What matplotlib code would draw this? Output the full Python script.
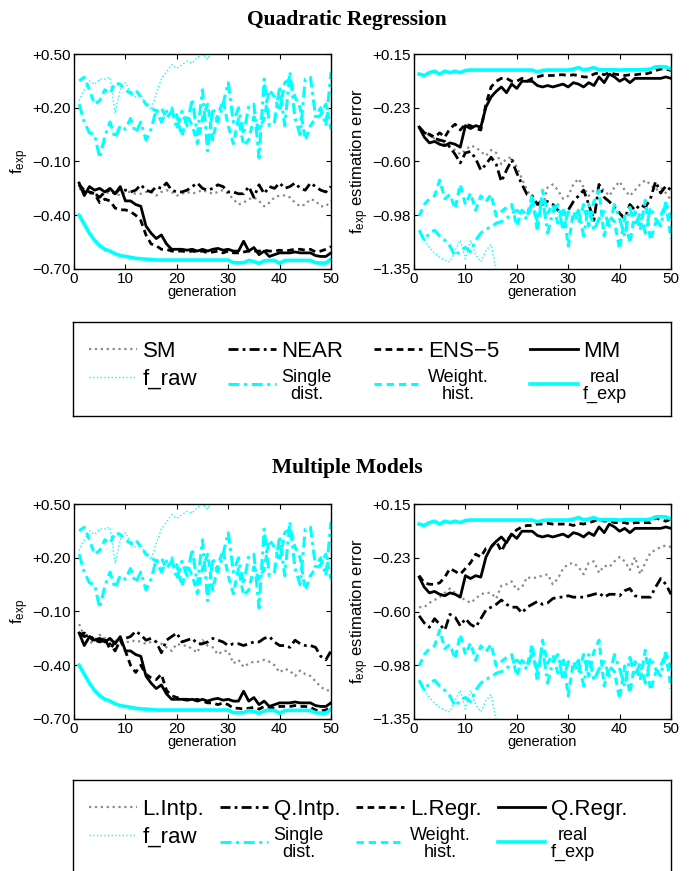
import matplotlib
matplotlib.use("Agg")
import matplotlib.pyplot as plt
import numpy as np

plt.rcParams['font.family'] = ['Liberation Sans', 'DejaVu Sans']
plt.rcParams['mathtext.fontset'] = 'custom'
plt.rcParams['mathtext.rm'] = 'Liberation Sans'
plt.rcParams['mathtext.it'] = 'Liberation Sans'

gen = np.arange(1, 51)
nan = np.nan

# ---- f_exp (left panels), shared cyan series ----
f_raw_left = [0.24, 0.30, 0.35, 0.33, 0.36, 0.36, 0.37, 0.17, 0.30, 0.34,
              0.28, 0.26, 0.27, 0.22, 0.19, 0.28, 0.36, 0.40, 0.44, 0.42,
              0.44, 0.46, 0.45, 0.48, 0.50, 0.47, 0.56, nan, nan, nan,
              nan, nan, nan, nan, nan, nan, nan, nan, nan, nan,
              nan, nan, nan, nan, nan, nan, nan, nan, nan, nan]
single_left = [0.22, 0.12, 0.06, 0.05, -0.08, 0.04, 0.12, 0.03, 0.10, 0.08,
               0.14, 0.06, 0.12, 0.02, 0.08, 0.19, 0.12, 0.18, 0.20, 0.08,
               0.18, 0.10, 0.25, 0.05, 0.30, -0.04, 0.20, 0.12, 0.22, 0.34,
               0.12, 0.20, 0.05, 0.21, 0.22, -0.08, 0.36, 0.10, 0.12, 0.32,
               0.10, 0.40, 0.14, 0.05, 0.36, 0.37, 0.15, 0.20, 0.10, 0.40]
weight_left = [0.35, 0.37, 0.30, 0.22, 0.24, 0.30, 0.28, 0.34, 0.33, 0.30,
               0.28, 0.30, 0.26, 0.22, 0.20, 0.18, 0.20, 0.14, 0.18, 0.16,
               0.04, 0.16, 0.10, 0.00, 0.14, 0.22, 0.02, 0.16, 0.24, 0.10,
               0.00, 0.14, -0.01, 0.02, 0.15, 0.08, 0.14, 0.30, 0.26, 0.18,
               0.34, 0.36, 0.26, 0.20, 0.02, 0.10, 0.14, 0.16, 0.22, 0.08]
real_left = [-0.40, -0.45, -0.50, -0.54, -0.57, -0.59, -0.60, -0.615, -0.625, -0.63,
             -0.635, -0.64, -0.643, -0.645, -0.647, -0.65, -0.65, -0.65, -0.65, -0.65,
             -0.65, -0.65, -0.65, -0.65, -0.65, -0.65, -0.65, -0.65, -0.65, -0.65,
             -0.665, -0.665, -0.665, -0.652, -0.658, -0.668, -0.655, -0.652, -0.652, -0.668,
             -0.653, -0.652, -0.652, -0.652, -0.652, -0.652, -0.665, -0.667, -0.667, -0.645]

# top-left black series
sm_left = [-0.25, -0.27, -0.28, -0.28, -0.29, -0.28, -0.27, -0.28, -0.29, -0.27,
           -0.27, -0.28, -0.28, -0.27, -0.27, -0.29, -0.27, -0.26, -0.27, -0.29,
           -0.28, -0.27, -0.28, -0.27, -0.26, -0.27, -0.28, -0.27, -0.26, -0.28,
           -0.31, -0.34, -0.33, -0.31, -0.30, -0.32, -0.35, -0.33, -0.30, -0.29,
           -0.29, -0.30, -0.33, -0.35, -0.34, -0.31, -0.32, -0.35, -0.35, -0.32]
near_left = [-0.23, -0.27, -0.27, -0.28, -0.30, -0.27, -0.26, -0.28, -0.25, -0.26,
             -0.27, -0.26, -0.23, -0.26, -0.27, -0.24, -0.25, -0.22, -0.26, -0.27,
             -0.27, -0.26, -0.24, -0.22, -0.25, -0.26, -0.25, -0.23, -0.24, -0.27,
             -0.27, -0.28, -0.28, -0.24, -0.30, -0.23, -0.28, -0.24, -0.25, -0.22,
             -0.25, -0.24, -0.22, -0.25, -0.26, -0.22, -0.24, -0.26, -0.27, -0.24]
ens_left = [-0.23, -0.26, -0.27, -0.28, -0.33, -0.31, -0.32, -0.36, -0.37, -0.37,
            -0.38, -0.40, -0.43, -0.51, -0.56, -0.57, -0.59, -0.59, -0.60, -0.60,
            -0.60, -0.605, -0.60, -0.605, -0.60, -0.61, -0.605, -0.60, -0.61, -0.60,
            -0.61, -0.61, -0.605, -0.60, -0.60, -0.60, -0.595, -0.60, -0.60, -0.595,
            -0.60, -0.595, -0.59, -0.59, -0.595, -0.59, -0.605, -0.60, -0.59, -0.575]
mm_left = [-0.22, -0.29, -0.24, -0.26, -0.25, -0.27, -0.25, -0.28, -0.24, -0.32,
           -0.32, -0.34, -0.35, -0.46, -0.50, -0.53, -0.51, -0.56, -0.59, -0.59,
           -0.59, -0.595, -0.59, -0.60, -0.59, -0.60, -0.59, -0.585, -0.595, -0.59,
           -0.60, -0.60, -0.545, -0.60, -0.58, -0.62, -0.60, -0.63, -0.62, -0.61,
           -0.61, -0.61, -0.605, -0.61, -0.61, -0.61, -0.625, -0.63, -0.63, -0.61]

# bottom-left black series
lintp_left = [-0.17, -0.24, -0.28, -0.26, -0.23, -0.25, -0.26, -0.26, -0.27, -0.27,
              -0.27, -0.26, -0.27, -0.28, -0.27, -0.27, -0.28, -0.30, -0.32, -0.28,
              -0.29, -0.29, -0.31, -0.33, -0.26, -0.29, -0.30, -0.34, -0.32, -0.32,
              -0.39, -0.37, -0.41, -0.39, -0.38, -0.38, -0.37, -0.38, -0.40, -0.44,
              -0.42, -0.43, -0.46, -0.43, -0.45, -0.46, -0.49, -0.52, -0.54, -0.54]
qintp_left = [-0.22, -0.24, -0.23, -0.26, -0.27, -0.26, -0.28, -0.32, -0.26, -0.25,
              -0.24, -0.21, -0.23, -0.26, -0.25, -0.27, -0.33, -0.26, -0.24, -0.22,
              -0.27, -0.26, -0.25, -0.28, -0.28, -0.27, -0.25, -0.26, -0.27, -0.29,
              -0.28, -0.28, -0.29, -0.28, -0.27, -0.27, -0.25, -0.24, -0.27, -0.29,
              -0.29, -0.30, -0.26, -0.28, -0.29, -0.29, -0.30, -0.35, -0.37, -0.32]
lregr_left = [-0.23, -0.22, -0.24, -0.27, -0.26, -0.25, -0.31, -0.27, -0.26, -0.32,
              -0.40, -0.44, -0.40, -0.45, -0.47, -0.48, -0.45, -0.54, -0.57, -0.58,
              -0.59, -0.59, -0.595, -0.59, -0.60, -0.61, -0.61, -0.62, -0.61, -0.62,
              -0.64, -0.64, -0.645, -0.64, -0.635, -0.645, -0.63, -0.635, -0.64, -0.63,
              -0.63, -0.63, -0.625, -0.63, -0.63, -0.635, -0.65, -0.655, -0.65, -0.635]
qregr_left = mm_left

# ---- estimation error (right panels), shared cyan series ----
f_raw_right = [-1.08, -1.15, -1.20, -1.24, -1.27, -1.29, -1.30, -1.22, -1.15, -1.28,
               -1.15, -1.25, -1.30, -1.22, -1.18, -1.36, -1.50, nan, nan, nan,
               nan, nan, nan, nan, nan, nan, nan, nan, nan, nan,
               nan, nan, nan, nan, nan, nan, nan, nan, nan, nan,
               nan, nan, nan, nan, nan, nan, nan, nan, nan, nan]
single_right = [-1.08, -1.15, -1.10, -1.08, -1.12, -1.15, -1.19, -1.26, -1.22, -1.20,
                -1.23, -1.15, -1.10, -1.07, -1.06, -1.03, -1.02, -1.00, -0.96, -0.94,
                -0.97, -1.00, -0.88, -1.02, -0.85, -1.10, -0.95, -0.90, -1.08, -0.95,
                -1.00, -0.94, -1.12, -0.90, -1.08, -1.00, -0.95, -1.05, -0.90, -1.00,
                -1.12, -0.92, -1.05, -0.96, -1.10, -0.92, -1.00, -1.05, -0.88, -1.00]
weight_right = [-0.98, -0.90, -0.86, -0.84, -0.73, -0.86, -0.83, -0.93, -0.76, -0.90,
                -0.82, -0.94, -0.84, -0.88, -0.83, -0.98, -0.95, -0.92, -0.90, -1.05,
                -0.94, -0.98, -0.83, -1.09, -0.80, -0.96, -0.90, -1.03, -0.92, -1.19,
                -0.95, -1.03, -0.90, -1.05, -0.88, -0.80, -1.12, -0.98, -1.02, -1.21,
                -0.98, -1.17, -0.95, -1.08, -0.87, -1.15, -1.03, -0.98, -0.89, -1.14]
real_right = [0.01, 0.00, 0.02, 0.03, 0.01, 0.03, 0.02, 0.03, 0.02, 0.035,
              0.038, 0.038, 0.038, 0.038, 0.038, 0.038, 0.038, 0.038, 0.038, 0.038,
              0.038, 0.038, 0.038, 0.025, 0.035, 0.038, 0.038, 0.038, 0.038, 0.038,
              0.045, 0.055, 0.04, 0.045, 0.055, 0.04, 0.04, 0.04, 0.04, 0.038,
              0.04, 0.04, 0.04, 0.04, 0.04, 0.045, 0.06, 0.062, 0.06, 0.045]

# top-right black series
sm_right = [-0.36, -0.40, -0.42, -0.44, -0.46, -0.48, -0.50, -0.52, -0.55, -0.52,
            -0.49, -0.50, -0.53, -0.56, -0.52, -0.54, -0.62, -0.58, -0.57, -0.64,
            -0.72, -0.80, -0.86, -0.90, -0.92, -0.78, -0.76, -0.80, -0.86, -0.84,
            -0.76, -0.72, -0.78, -0.84, -0.80, -0.78, -0.80, -0.84, -0.78, -0.74,
            -0.80, -0.84, -0.80, -0.76, -0.73, -0.76, -0.80, -0.78, -0.82, -0.87]
near_right = [-0.36, -0.40, -0.41, -0.44, -0.45, -0.46, -0.50, -0.55, -0.61, -0.54,
              -0.53, -0.58, -0.66, -0.62, -0.57, -0.62, -0.74, -0.66, -0.59, -0.68,
              -0.76, -0.83, -0.84, -0.90, -0.87, -0.88, -0.90, -0.94, -0.96, -0.94,
              -0.88, -0.84, -0.80, -0.90, -1.01, -0.76, -0.85, -0.88, -0.92, -0.96,
              -1.00, -0.90, -0.94, -0.90, -0.92, -0.86, -0.74, -0.82, -0.77, -0.80]
ens_right = [-0.36, -0.40, -0.41, -0.43, -0.40, -0.43, -0.37, -0.34, -0.38, -0.34,
             -0.35, -0.37, -0.38, -0.20, -0.08, -0.04, -0.02, -0.02, -0.04, -0.04,
             -0.02, -0.04, -0.02, -0.01, 0.00, 0.00, 0.00, 0.005, 0.005, 0.00,
             0.005, 0.00, -0.01, -0.01, 0.01, 0.02, 0.005, 0.02, 0.01, 0.005,
             0.00, 0.005, 0.005, 0.01, 0.01, 0.02, 0.035, 0.045, 0.045, 0.035]
mm_right = [-0.36, -0.43, -0.47, -0.46, -0.48, -0.49, -0.47, -0.48, -0.50, -0.35,
            -0.37, -0.35, -0.36, -0.22, -0.15, -0.11, -0.08, -0.12, -0.06, -0.09,
            -0.04, -0.04, -0.04, -0.07, -0.08, -0.07, -0.08, -0.07, -0.06, -0.08,
            -0.05, -0.06, -0.08, -0.05, -0.07, -0.01, -0.05, 0.01, -0.01, -0.04,
            -0.02, -0.05, -0.02, -0.02, -0.02, -0.02, -0.02, -0.02, -0.01, -0.02]

# bottom-right black series
lintp_right = [-0.57, -0.57, -0.54, -0.52, -0.50, -0.47, -0.44, -0.47, -0.50, -0.52,
               -0.54, -0.51, -0.48, -0.47, -0.47, -0.51, -0.42, -0.41, -0.39, -0.45,
               -0.43, -0.36, -0.37, -0.36, -0.35, -0.34, -0.41, -0.37, -0.30, -0.27,
               -0.26, -0.29, -0.34, -0.26, -0.25, -0.33, -0.28, -0.29, -0.25, -0.22,
               -0.25, -0.31, -0.22, -0.34, -0.26, -0.19, -0.17, -0.15, -0.14, -0.15]
qintp_right = [-0.63, -0.68, -0.71, -0.65, -0.69, -0.73, -0.62, -0.64, -0.70, -0.65,
               -0.69, -0.71, -0.65, -0.59, -0.57, -0.55, -0.52, -0.55, -0.57, -0.57,
               -0.61, -0.57, -0.55, -0.53, -0.55, -0.54, -0.51, -0.50, -0.50, -0.49,
               -0.50, -0.50, -0.50, -0.49, -0.48, -0.47, -0.50, -0.48, -0.48, -0.49,
               -0.455, -0.44, -0.49, -0.50, -0.50, -0.50, -0.43, -0.37, -0.41, -0.48]
lregr_right = [-0.35, -0.40, -0.41, -0.41, -0.40, -0.36, -0.30, -0.32, -0.34, -0.30,
               -0.26, -0.20, -0.22, -0.16, -0.15, -0.11, -0.18, -0.11, -0.06, -0.03,
               -0.01, 0.00, 0.00, 0.01, 0.01, 0.015, 0.01, 0.01, 0.01, 0.01,
               0.00, 0.015, 0.01, 0.02, 0.03, 0.045, 0.03, 0.035, 0.02, 0.02,
               0.02, 0.01, 0.02, 0.02, 0.02, 0.02, 0.055, 0.04, 0.03, 0.045]
qregr_right = mm_right

left_ticks = [-0.70, -0.40, -0.10, 0.20, 0.50]
left_labels = ["\u22120.70", "\u22120.40", "\u22120.10", "+0.20", "+0.50"]
right_ticks = list(np.linspace(-1.35, 0.15, 5))
right_labels = ["\u22121.35", "\u22120.98", "\u22120.60", "\u22120.23", "+0.15"]

CYAN = "#00FFFF"
GREY = "#8a8a8a"
DASH = (2.4, 1.6)
DASHDOT = (3.6, 1.5, 1.0, 1.5)


def draw_panel(ax, black, cyan, yticks, ylabels, ylim, ylabel, names):
    sm, near, ens, mm = black
    raw, single, weight, real = cyan
    h = []
    h += ax.plot(gen, sm, color=GREY, lw=1.6, ls=":", label=names[0])
    h += ax.plot(gen, raw, color=CYAN, lw=1.0, ls=":", label="f_raw")
    h += ax.plot(gen, near, color="k", lw=2.0, dashes=DASHDOT, label=names[1])
    h += ax.plot(gen, single, color=CYAN, lw=2.2, dashes=DASHDOT, label="Single\ndist.")
    h += ax.plot(gen, ens, color="k", lw=2.0, dashes=DASH, label=names[2])
    h += ax.plot(gen, weight, color=CYAN, lw=2.2, dashes=DASH, label="Weight.\nhist.")
    h += ax.plot(gen, mm, color="k", lw=2.0, label=names[3])
    h += ax.plot(gen, real, color=CYAN, lw=2.6, label="real\nf_exp")
    ax.set_xlim(0, 50)
    ax.set_ylim(*ylim)
    ax.set_xticks([0, 10, 20, 30, 40, 50])
    ax.set_yticks(yticks)
    ax.set_yticklabels(ylabels)
    ax.tick_params(direction="in", top=True, right=True, length=3.5,
                   width=0.8, labelsize=11, pad=2.5)
    ax.set_xlabel("generation", fontsize=10.5, labelpad=-1)
    ax.set_ylabel(ylabel, fontsize=12, labelpad=1)
    for s in ax.spines.values():
        s.set_linewidth(1.0)
    return h


def draw_legend(fig, rect, handles):
    lax = fig.add_axes(rect)
    lax.set_xticks([])
    lax.set_yticks([])
    for s in lax.spines.values():
        s.set_linewidth(1.0)
    leg = lax.legend(handles=handles, ncol=4, loc="center", mode="expand",
                     bbox_to_anchor=(0.027, 0.0, 0.90, 0.94), frameon=False,
                     fontsize=16, handlelength=2.15, handletextpad=0.25,
                     labelspacing=0.3, borderpad=0, borderaxespad=0)
    for t in leg.get_texts():
        if "\n" in t.get_text():
            t.set_fontsize(13)
            t.set_multialignment("center")
            t.set_linespacing(1.0)


fig = plt.figure(figsize=(6.94, 8.71), dpi=100)

axw = 257 / 694
axh = 215 / 871
ax_tl = fig.add_axes([74 / 694, 1 - 269 / 871, axw, axh])
ax_tr = fig.add_axes([414 / 694, 1 - 269 / 871, axw, axh])
ax_bl = fig.add_axes([74 / 694, 1 - 719 / 871, axw, axh])
ax_br = fig.add_axes([414 / 694, 1 - 719 / 871, axw, axh])

lab_l = r"f$_{\mathrm{exp}}$"
lab_r = r"f$_{\mathrm{exp}}$ estimation error"
names_top = ["SM", "NEAR", "ENS\u22125", "MM"]
names_bot = ["L.Intp.", "Q.Intp.", "L.Regr.", "Q.Regr."]

h_top = draw_panel(ax_tl, (sm_left, near_left, ens_left, mm_left),
                   (f_raw_left, single_left, weight_left, real_left),
                   left_ticks, left_labels, (-0.70, 0.50), lab_l, names_top)
draw_panel(ax_tr, (sm_right, near_right, ens_right, mm_right),
           (f_raw_right, single_right, weight_right, real_right),
           right_ticks, right_labels, (-1.35, 0.15), lab_r, names_top)
h_bot = draw_panel(ax_bl, (lintp_left, qintp_left, lregr_left, qregr_left),
                   (f_raw_left, single_left, weight_left, real_left),
                   left_ticks, left_labels, (-0.70, 0.50), lab_l, names_bot)
draw_panel(ax_br, (lintp_right, qintp_right, lregr_right, qregr_right),
           (f_raw_right, single_right, weight_right, real_right),
           right_ticks, right_labels, (-1.35, 0.15), lab_r, names_bot)

fig.text(0.5, 1 - 20 / 871, "Quadratic Regression", ha="center", va="center",
         fontsize=15.5, fontweight="bold", family="Liberation Serif")
fig.text(0.5, 1 - 468 / 871, "Multiple Models", ha="center", va="center",
         fontsize=15.5, fontweight="bold", family="Liberation Serif")

draw_legend(fig, [73 / 694, 1 - 416 / 871, 598 / 694, 94 / 871], h_top)
draw_legend(fig, [73 / 694, 1 - 874 / 871, 598 / 694, 94 / 871], h_bot)

fig.savefig("out.png", dpi=100)
